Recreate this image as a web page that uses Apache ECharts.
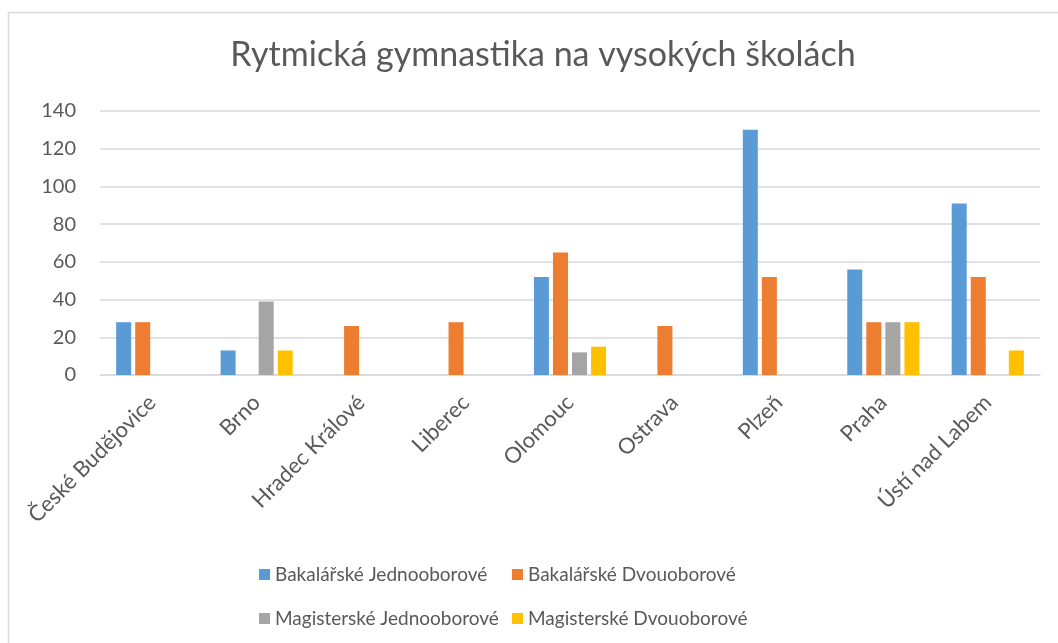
<!DOCTYPE html>
<html>
<head>
<meta charset="utf-8">
<script src="https://cdn.jsdelivr.net/npm/echarts@6/dist/echarts.min.js"></script>
<style>
  html, body { margin: 0; padding: 0; background: #fff; }
  #chart { width: 1058px; height: 643px; }
</style>
</head>
<body>
<div id="chart"></div>
<script>
// mesta (kategorie na ose x)
const cities = ['České Budějovice', 'Brno', 'Hradec Králové', 'Liberec', 'Olomouc', 'Ostrava', 'Plzeň', 'Praha', 'Ústí nad Labem']

// hodnoty jednotlivych rad
const bakJedno = [28, 13, 0, 0, 52, 0, 130, 56, 91]
const bakDvou = [28, 0, 26, 28, 65, 26, 52, 28, 52]
const magJedno = [0, 39, 0, 0, 12, 0, 0, 28, 0]
const magDvou = [0, 13, 0, 0, 15, 0, 0, 28, 13]

const seriesNames = ['Bakalářské Jednooborové', 'Bakalářské Dvouoborové', 'Magisterské Jednooborové', 'Magisterské Dvouoborové']
const colors = ['#5B9BD5', '#ED7D31', '#A5A5A5', '#FFC000']

const font = 'Lato, Carlito, Calibri, "Open Sans", sans-serif'
const textColor = '#595959'

const chart = echarts.init(document.getElementById('chart'))

// hodnoty 0 se v Excelu nekresli
const nz = arr => arr.map(v => (v === 0 ? '-' : v))

const legendBase = {
  icon: 'rect',
  itemWidth: 11,
  itemHeight: 11,
  itemGap: 6,
  textStyle: { color: textColor, fontSize: 19, fontFamily: font },
}

const option = {
  animation: false,
  color: colors,
  title: {
    text: 'Rytmická gymnastika na vysokých školách',
    left: 538,
    textAlign: 'center',
    top: 33,
    textStyle: { color: textColor, fontSize: 34, fontWeight: 'normal', fontFamily: font },
  },
  legend: [
    Object.assign({ data: [seriesNames[0]], left: 254, top: 560 }, legendBase),
    Object.assign({ data: [seriesNames[1]], left: 507, top: 560 }, legendBase),
    Object.assign({ data: [seriesNames[2]], left: 254, top: 604 }, legendBase),
    Object.assign({ data: [seriesNames[3]], left: 507, top: 604 }, legendBase),
  ],
  grid: { left: 100, right: 18, top: 111, bottom: 268 },
  xAxis: {
    type: 'category',
    data: cities,
    axisLine: { lineStyle: { color: '#d9d9d9', width: 1.5 } },
    axisTick: { show: false },
    axisLabel: { rotate: 45, color: textColor, fontSize: 22, fontFamily: font, margin: 24, interval: 0 },
  },
  yAxis: {
    type: 'value',
    min: 0,
    max: 140,
    interval: 20,
    axisLine: { show: false },
    axisTick: { show: false },
    axisLabel: { color: textColor, fontSize: 20, fontFamily: font, margin: 24 },
    splitLine: { lineStyle: { color: '#d9d9d9', width: 1.5 } },
  },
  series: [bakJedno, bakDvou, magJedno, magDvou].map((d, i) => ({
    name: seriesNames[i],
    type: 'bar',
    data: nz(d),
    barWidth: 15,
    barGap: '27%',
    itemStyle: { color: colors[i] },
  })),
  graphic: [
    {
      type: 'rect',
      shape: { x: 8.5, y: 12.5, width: 1200, height: 800 },
      style: { fill: 'none', stroke: '#d9d9d9', lineWidth: 1.5 },
      silent: true,
    },
  ],
}

chart.setOption(option)
</script>
</body>
</html>
